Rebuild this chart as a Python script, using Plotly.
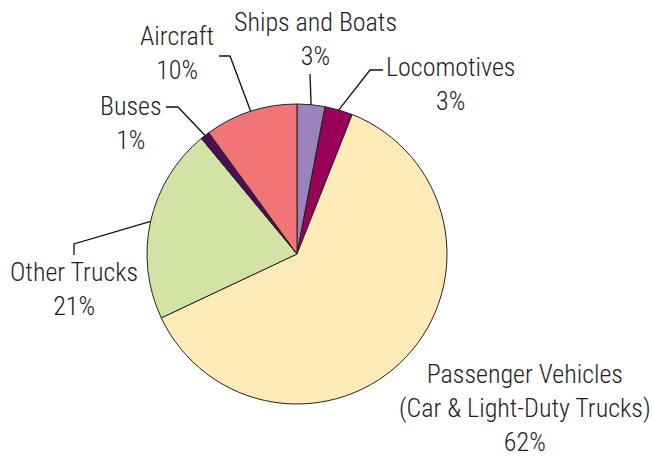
import math
import plotly.graph_objects as go

# Transportation share by mode (percent), clockwise from 12 o'clock
categories = ["Ships and Boats", "Locomotives", "Passenger Vehicles",
              "Other Trucks", "Buses", "Aircraft"]
label_text = ["Ships and Boats", "Locomotives",
              "Passenger Vehicles<br>(Car & Light-Duty Trucks)",
              "Other Trucks", "Buses", "Aircraft"]
shares = [3, 3, 62, 21, 1, 10]
colors = ["#9b82ba", "#990057", "#ffebb8", "#d3e3a6", "#4e0e55", "#f17577"]

W, H = 652, 458
CX, CY, R = 297, 254, 150          # pie centre and radius in pixels
FONT = "Roboto Condensed, DejaVu Sans Condensed, Roboto, sans-serif"

# Label placement: text centre, then leader-line bends (pixels); None = no leader
label_layout = {
    "Ships and Boats":    dict(text=(315, 39),  bends=[(310, 74)]),
    "Locomotives":        dict(text=(450, 84),  bends=[(370, 70), (383, 70)]),
    "Passenger Vehicles": dict(text=(525, 408), bends=None),
    "Other Trucks":       dict(text=(74, 289),  bends=[(74, 244), (74, 255)]),
    "Buses":              dict(text=(131, 123), bends=[(178, 107), (166, 107)]),
    "Aircraft":           dict(text=(177, 53),  bends=[(230, 56), (219, 56)]),
}


def px_to_paper(x, y):
    return x / W, 1 - y / H


fig = go.Figure(go.Pie(
    labels=categories,
    values=shares,
    sort=False,
    direction="clockwise",
    rotation=0,
    marker=dict(colors=colors, line=dict(color="#222222", width=1)),
    textinfo="none",
    hoverinfo="label+percent",
    showlegend=False,
    domain=dict(x=[(CX - R) / W, (CX + R) / W],
                y=[1 - (CY + R) / H, 1 - (CY - R) / H]),
))

total = sum(shares)
cum = 0
annotations, shapes = [], []
for name, text, val in zip(categories, label_text, shares):
    mid = (cum + val / 2) / total * 2 * math.pi
    cum += val
    spec = label_layout[name]
    tx, ty = spec["text"]
    ax_, ay_ = px_to_paper(tx, ty)
    annotations.append(dict(
        x=ax_, y=ay_, xref="paper", yref="paper",
        text=f"{text}<br>{val}%", showarrow=False,
        xanchor="center", yanchor="middle", align="center",
        font=dict(family=FONT, size=26, color="#1e1e1e", weight=300),
    ))
    if spec["bends"]:
        pts = [(CX + R * math.sin(mid), CY - R * math.cos(mid))] + spec["bends"]
        path = ""
        for i, (x, y) in enumerate(pts):
            px, py = px_to_paper(x, y)
            path += ("M" if i == 0 else " L") + f" {px:.5f},{py:.5f}"
        shapes.append(dict(type="path", path=path, xref="paper", yref="paper",
                           line=dict(color="#111111", width=1.3)))

fig.update_layout(
    width=W, height=H,
    margin=dict(l=0, r=0, t=0, b=0),
    paper_bgcolor="white", plot_bgcolor="white",
    annotations=annotations, shapes=shapes,
)

fig.write_html("out.html")
